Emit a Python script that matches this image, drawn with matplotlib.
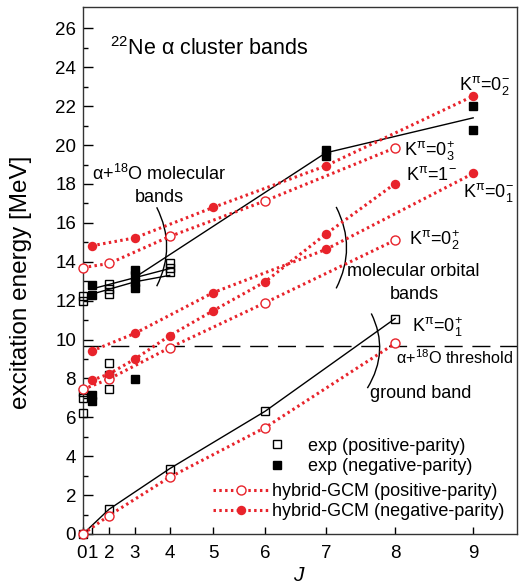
import matplotlib
matplotlib.use("Agg")
import matplotlib.pyplot as plt
import matplotlib.transforms as mtransforms
from matplotlib.path import Path
from matplotlib.patches import PathPatch
import numpy as np

plt.rcParams['font.family'] = ['Liberation Sans', 'DejaVu Sans']
plt.rcParams['mathtext.fontset'] = 'custom'
plt.rcParams['mathtext.rm'] = 'Liberation Sans'
plt.rcParams['mathtext.it'] = 'Liberation Sans:italic'
plt.rcParams['mathtext.bf'] = 'Liberation Sans:bold'

RED = '#e8232b'

# experimental levels: open = positive parity, filled = negative parity
exp_pos_J = [0, 0, 0, 0, 0, 0, 2, 2, 2, 2, 2, 2, 2, 4, 4, 4, 4, 6, 8]
exp_pos_E = [0.0, 6.24, 7.0, 7.3, 12.0, 12.25, 1.27, 7.44, 8.2, 8.8,
             12.35, 12.6, 12.85, 3.36, 13.45, 13.7, 13.95, 6.31, 11.08]
exp_neg_J = [1, 1, 1, 1, 3, 3, 3, 3, 3, 7, 7, 9, 9]
exp_neg_E = [6.85, 7.15, 12.27, 12.83, 7.97, 12.65, 12.95, 13.3, 13.6,
             19.45, 19.75, 20.8, 22.0]

# solid lines drawn through the experimental bands
ground_J = [0, 2, 4, 6, 8]
ground_E = [0.0, 1.27, 3.36, 6.31, 11.08]
mol_a_J = [1, 4]
mol_a_E = [12.6, 13.65]
mol_b_J = [1, 3, 4]
mol_b_E = [12.33, 12.97, 13.3]
mol_c_J = [3, 7, 9]
mol_c_E = [13.2, 19.6, 21.4]

# hybrid-GCM bands
k01p_J = [0, 2, 4, 6, 8]
k01p_E = [0.0, 0.95, 2.92, 5.47, 9.8]
k02p_J = [0, 2, 4, 6, 8]
k02p_E = [7.44, 7.97, 9.58, 11.89, 15.11]
k03p_J = [0, 2, 4, 6, 8]
k03p_E = [13.7, 13.91, 15.3, 17.13, 19.86]
k1m_J = [1, 2, 3, 4, 5, 6, 7, 8]
k1m_E = [7.9, 8.23, 9.0, 10.2, 11.48, 12.97, 15.42, 18.02]
k01m_J = [1, 3, 5, 7, 9]
k01m_E = [9.41, 10.32, 12.41, 14.63, 18.54]
k02m_J = [1, 3, 5, 7, 9]
k02m_E = [14.82, 15.23, 16.79, 18.93, 22.52]

threshold = 9.67
J_ticks = list(range(10))


def jj(J):
    J = np.asarray(J, dtype=float)
    return J * (J + 1)


fig = plt.figure(figsize=(5.23, 5.84), dpi=100)
ax = fig.add_axes([83 / 523, 1 - 534 / 584, (516.5 - 83) / 523, (534 - 7) / 584])

ax.axhline(threshold, color='black', lw=1.0, dashes=(13, 7))

line_kw = dict(color='black', lw=1.0, zorder=2)
ax.plot(jj(ground_J), ground_E, **line_kw)
ax.plot(jj(mol_a_J), mol_a_E, **line_kw)
ax.plot(jj(mol_b_J), mol_b_E, **line_kw)
ax.plot(jj(mol_c_J), mol_c_E, **line_kw)

h_pos, = ax.plot(jj(exp_pos_J), exp_pos_E, ls='none', marker='s', ms=6,
                 mfc='none', mec='black', mew=1.0, zorder=3, clip_on=False)
h_neg, = ax.plot(jj(exp_neg_J), exp_neg_E, ls='none', marker='s', ms=6,
                 mfc='black', mec='black', mew=1.0, zorder=3, clip_on=False)

dot_kw = dict(color=RED, lw=2.2, ls=(0, (0.8, 1.1)), zorder=4, clip_on=False)
for J, E in [(k01p_J, k01p_E), (k02p_J, k02p_E), (k03p_J, k03p_E)]:
    g_pos, = ax.plot(jj(J), E, marker='o', ms=6.5, mfc='white', mec=RED,
                     mew=1.0, **dot_kw)
for J, E in [(k1m_J, k1m_E), (k01m_J, k01m_E), (k02m_J, k02m_E)]:
    g_neg, = ax.plot(jj(J), E, marker='o', ms=6.8, mfc=RED, mec=RED,
                     mew=0, **dot_kw)

# brackets
def bracket(p0, c, p1):
    path = Path([p0, c, p1], [Path.MOVETO, Path.CURVE3, Path.CURVE3])
    ax.add_patch(PathPatch(path, fc='none', ec='black', lw=1.0))


bracket((17.0, 16.8), (21.6, 14.77), (17.0, 12.74))
bracket((58.4, 16.82), (63.2, 14.72), (58.4, 12.63))
bracket((66.5, 11.34), (70.8, 9.4), (65.6, 7.5))

# labels (baseline placed)
fs = 13
tkw = dict(fontsize=fs, va='baseline')
ax.text(6.2, 24.64, r'$^{22}$Ne α cluster bands', fontsize=15.5, va='baseline')
ax.text(2.1, 18.2, r'α+$^{18}$O molecular', **tkw)
ax.text(17.5, 17.08, 'bands', ha='center', **tkw)
ax.text(86.8, 22.82, r'K$^{\mathrm{π}}$=0$^{-}_{2}$', **tkw)
ax.text(74.1, 19.42, r'K$^{\mathrm{π}}$=0$^{+}_{3}$', **tkw)
ax.text(74.6, 18.19, r'K$^{\mathrm{π}}$=1$^{-}$', **tkw)
ax.text(87.7, 17.33, r'K$^{\mathrm{π}}$=0$^{-}_{1}$', **tkw)
ax.text(75.3, 14.85, r'K$^{\mathrm{π}}$=0$^{+}_{2}$', **tkw)
ax.text(60.8, 13.27, 'molecular orbital', **tkw)
ax.text(76.4, 12.11, 'bands', ha='center', **tkw)
ax.text(75.9, 10.4, r'K$^{\mathrm{π}}$=0$^{+}_{1}$', **tkw)
ax.text(72.3, 8.74, r'α+$^{18}$O threshold', fontsize=11.7, va='baseline')
ax.text(66.1, 6.97, 'ground band', **tkw)

# legends
leg1 = ax.legend([h_pos, h_neg], ['exp (positive-parity)', 'exp (negative-parity)'],
                 loc='upper left', bbox_to_anchor=(0.427, 0.183), frameon=False,
                 fontsize=fs, handlelength=1.0, handletextpad=1.2,
                 borderpad=0, borderaxespad=0, labelspacing=0.2)
ax.add_artist(leg1)
ax.legend([g_pos, g_neg], ['hybrid-GCM (positive-parity)', 'hybrid-GCM (negative-parity)'],
          loc='upper left', bbox_to_anchor=(0.3, 0.097), frameon=False,
          fontsize=fs, handlelength=3.05, handletextpad=0.22,
          borderpad=0, borderaxespad=0, labelspacing=0.2)

ax.set_xlim(0, 100)
ax.set_ylim(0, 27.1)
ax.set_xticks(jj(J_ticks))
ax.set_xticklabels([str(j) for j in J_ticks])
ax.set_yticks(np.arange(0, 27, 2))
ax.set_yticks(np.arange(1, 27, 2), minor=True)
ax.tick_params(axis='both', which='major', direction='in', labelsize=13.5, width=1.0)
ax.tick_params(axis='y', which='major', length=7, pad=5)
ax.tick_params(axis='y', which='minor', direction='in', length=3.5, width=1.0)
ax.tick_params(axis='x', which='major', length=5, pad=8)
for s in ax.spines.values():
    s.set_linewidth(1.0)
    s.set_color('#333333')

# "0" and "1" sit very close: nudge them apart a little
xlabels = ax.get_xticklabels()
for lab, dx in [(xlabels[0], -1.5), (xlabels[1], 1.2)]:
    lab.set_transform(lab.get_transform() +
                      mtransforms.ScaledTranslation(dx / 100, 0, fig.dpi_scale_trans))

ax.set_xlabel('$J$', fontsize=15, labelpad=3)
ax.set_ylabel('excitation energy [MeV]', fontsize=17.5)
ax.yaxis.set_label_coords(-0.118, 0.477)

fig.savefig('out.png', dpi=100)
